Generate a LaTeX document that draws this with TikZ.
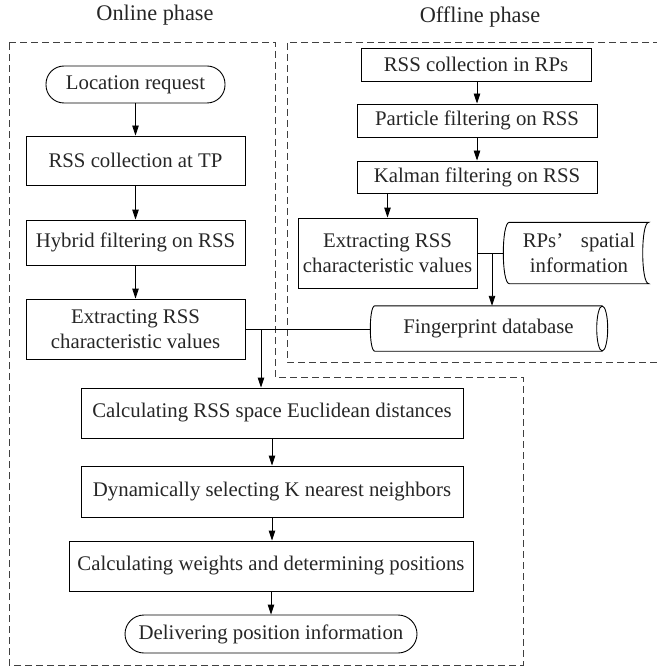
\documentclass[tikz,border=0pt]{standalone}
\usepackage{fontspec}
\setmainfont{Liberation Serif}
\usetikzlibrary{arrows.meta}
\begin{document}
\begin{tikzpicture}[x=1pt,y=-1pt,
  every node/.style={font=\fontsize{20.8}{25}\selectfont, inner sep=0pt, align=center, text=black!85},
  box/.style={draw, line width=0.9pt, rectangle},
  term/.style={draw, line width=0.9pt, rectangle, rounded corners=18pt},
  plain/.style={rectangle},
  ttl/.style={font=\fontsize{22.3}{26}\selectfont},
  arr/.style={line width=0.9pt, -{Triangle[length=10pt,width=6.5pt]}},
  ln/.style={line width=0.9pt},
  dsh/.style={line width=0.7pt, dash pattern=on 7pt off 4pt, black!75}]
\useasboundingbox (0,0) rectangle (656,668);

% phase frames
\draw[dsh] (9,42) -- (275,42) -- (275,377) -- (523,377) -- (523,665) -- (9,665) -- cycle;
\draw[dsh] (660,42) -- (287,42) -- (287,362) -- (660,362);

% titles
\node[ttl] (t1) at (155,15) {Online phase};
\node[ttl] (t2) at (480,17) {Offline phase};

% online
\node[term, minimum width=179pt, minimum height=37pt] (loc) at (135.5,84.5) {Location request};
\node[box, minimum width=219pt, minimum height=49pt] (tp) at (135.5,160.5) {RSS collection at TP};
\node[box, minimum width=219pt, minimum height=45pt] (hyb) at (135.5,242.5) {Hybrid filtering on RSS};
\node[box, minimum width=219pt, minimum height=60pt] (oext) at (135.5,329) {Extracting RSS\\characteristic values};
\node[box, minimum width=382pt, minimum height=50pt] (calc) at (272,413) {Calculating RSS space Euclidean distances};
\node[box, minimum width=382pt, minimum height=51pt] (dyn) at (272,491.5) {Dynamically selecting K nearest neighbors};
\node[box, minimum width=404pt, minimum height=50pt] (wts) at (271,566) {Calculating weights and determining positions};
\node[term, rounded corners=19pt, minimum width=292pt, minimum height=38pt] (del) at (271,634) {Delivering position information};

% offline
\node[box, minimum width=230pt, minimum height=33pt] (rps) at (476,64.5) {RSS collection in RPs};
\node[box, minimum width=240pt, minimum height=33pt] (pf) at (477,120.5) {Particle filtering on RSS};
\node[box, minimum width=240pt, minimum height=32pt] (kal) at (477,177) {Kalman filtering on RSS};
\node[box, minimum width=179pt, minimum height=70pt] (fext) at (387.5,253) {Extracting RSS\\characteristic values};
\node[plain, minimum width=139pt, minimum height=61pt] (spat) at (579,253) {RPs’\hspace{0.85em}spatial\\information};
\draw[ln] (spat.north west) -- (spat.north east)
  .. controls ([xshift=-8pt]spat.north east) and ([xshift=-8pt]spat.south east) .. (spat.south east)
  -- (spat.south west)
  .. controls ([xshift=-8pt]spat.south west) and ([xshift=-8pt]spat.north west) .. cycle;
\node[plain, minimum width=227pt, minimum height=45pt] (fp) at (488.5,328.5) {Fingerprint database};
\draw[ln] (fp.north east) -- (fp.north west)
  .. controls ([xshift=-6pt]fp.north west) and ([xshift=-6pt]fp.south west) .. (fp.south west)
  -- (fp.south east);
\draw[ln] (fp.east) ellipse [x radius=5.5pt, y radius=22.5pt];

% online arrows
\draw[arr] (loc) -- (tp);
\draw[arr] (tp) -- (hyb);
\draw[arr] (hyb) -- (oext);
\draw[ln] (oext.east) -- ([xshift=-4.5pt]fp.west |- oext.east);
\coordinate (j1) at (261,329);
\draw[arr] (j1) -- (j1 |- calc.north);
\draw[arr] (calc) -- (dyn);
\draw[arr] (dyn.south) -- (dyn.south |- wts.north);
\draw[arr] (wts) -- (del);

% offline arrows
\draw[arr] (rps.south -| pf.north) -- (pf.north);
\draw[arr] (pf) -- (kal);
\draw[arr] (kal.south -| fext.north) -- (fext.north);
\draw[ln] (fext.east) -- ([xshift=-6pt]spat.west);
\coordinate (j2) at (492,253);
\draw[arr] (j2) -- (j2 |- fp.north);
\end{tikzpicture}
\end{document}
